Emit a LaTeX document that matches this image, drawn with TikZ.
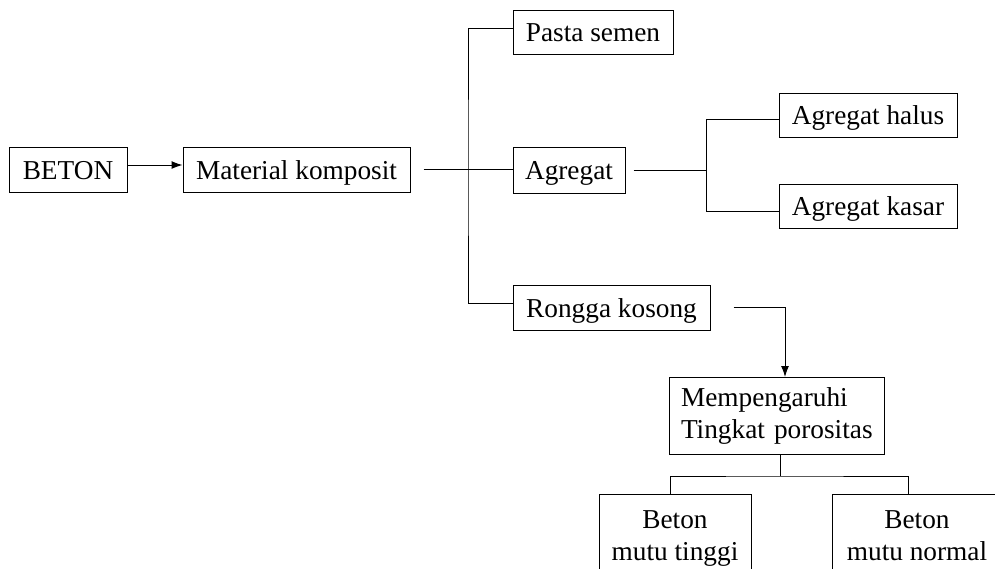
\documentclass[tikz,border=0pt]{standalone}
\usepackage{fontspec}
\setmainfont{Liberation Serif}
\usetikzlibrary{arrows.meta}
\begin{document}
\begin{tikzpicture}[x=1pt,y=-1pt,
  line width=1pt,
  every node/.style={font=\fontsize{27.3}{32}\selectfont},
  box/.style={draw, inner sep=0pt, text height=19.5pt, text depth=0pt, align=center},
  tall/.style={draw, anchor=north, inner xsep=6pt, inner ysep=16.5pt, align=center},
  arr/.style={-{Latex[length=11pt,width=8pt]}}]
\useasboundingbox (0,0) rectangle (995,568);
\clip (0,0) rectangle (995,568);
% nodes
\node[box, minimum width=118pt, minimum height=45pt] (beton) at (68,169.5) {BETON};
\node[box, minimum width=227pt, minimum height=45pt] (mat) at (296.5,169.5) {Material komposit};
\node[box, minimum width=160pt, minimum height=44pt] (pasta) at (593,32) {Pasta semen};
\node[box, minimum width=112pt, minimum height=46pt] (agr) at (569,170) {Agregat};
\node[box, minimum width=197pt, minimum height=45pt] (rongga) at (611.5,307.5) {Rongga kosong};
\node[box, minimum width=178pt, minimum height=44pt] (halus) at (868,115) {Agregat halus};
\node[box, minimum width=178pt, minimum height=44pt] (kasar) at (868,206) {Agregat kasar};
\node[draw, minimum width=215pt, minimum height=77pt, inner xsep=12pt, align=left, text width=191pt] (mem) at (776.5,416) {\mbox{Mempengaruhi}\\\mbox{Tingkat porositas}};
\node[tall, minimum width=152pt] (tinggi) at (675,494) {Beton\\mutu tinggi\\\mbox{}};
\node[tall, minimum width=170pt] (normal) at (917,494) {Beton\\mutu normal\\\mbox{}};
% junction coordinates
\coordinate (bus1) at (468,169.5);
\coordinate (bus2) at (706,170);
\coordinate (bus3) at (780,476);
% connectors
\draw[arr] ([yshift=4.5pt]beton.east) -- ([yshift=4.5pt]mat.west);
\draw ([xshift=13pt]mat.east) -- (mat.east -| agr.west);
\draw ([yshift=4pt]pasta.west) -| (bus1) |- ([yshift=4pt]rongga.west);
\draw ([xshift=8pt]agr.east) -- (bus2);
\draw ([yshift=-4pt]halus.west) -| (bus2) |- ([yshift=-5pt]kasar.west);
\draw[arr] ([xshift=23pt]rongga.east) -| ([xshift=8.5pt]mem.north);
\draw ([xshift=3.5pt]mem.south) -- (bus3);
\draw ([xshift=-5pt]tinggi.north) |- (bus3) -| ([xshift=-9pt]normal.north);
\end{tikzpicture}
\end{document}
